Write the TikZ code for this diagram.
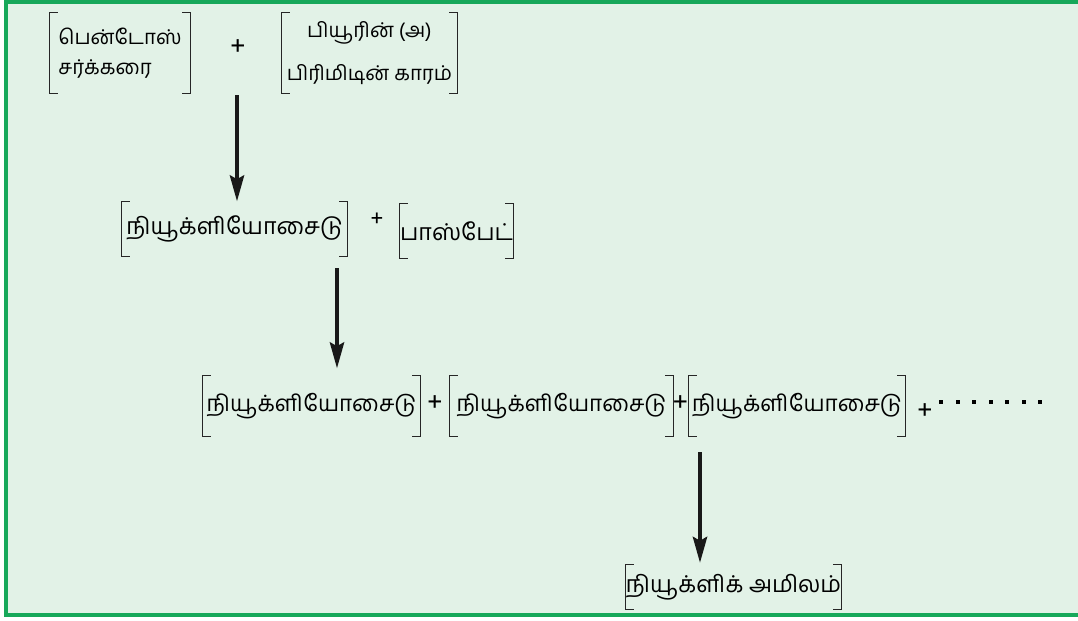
\documentclass[tikz,border=0pt]{standalone}
\usepackage{fontspec}
\newfontfamily\tamil[Script=Tamil]{Hind Madurai}
\usetikzlibrary{arrows.meta,positioning}
\definecolor{panel}{HTML}{E2F2E7}
\definecolor{rule}{HTML}{17A85A}
\newcommand\brk[1]{%
  \draw[brkline] ([xshift=8*0.025cm]#1.north west) -- (#1.north west) -- (#1.south west) -- ++(8*0.025cm,0);
  \draw[brkline] ([xshift=-8*0.025cm]#1.north east) -- (#1.north east) -- (#1.south east) -- ++(-8*0.025cm,0);}

\begin{document}
\begin{tikzpicture}[
  x=0.025cm, y=-0.025cm,
  box/.style={inner sep=0pt, align=center, font=\tamil\fontsize{14.5}{21}\selectfont},
  bigbox/.style={inner sep=0pt, minimum height=#1*0.025cm, font=\tamil\fontsize{16.5}{20}\selectfont},
  bigbox/.default=55,
  plus/.style={inner sep=0pt, font=\tamil\fontsize{20}{22}\selectfont},
  brkline/.style={line width=1pt, black!85},
  arr/.style={-{Stealth[length=6.5mm,width=3.6mm,inset=1mm]}, line width=2.2pt, black!90}
]
\useasboundingbox (0,0) rectangle (1078,620);
% frame
\fill[panel] (6,2) rectangle (1078,615);
\draw[rule, line width=2.2pt] (1078,2) -- (6,2) -- (6,615) -- (1078,615);

% first row
\node[box, minimum width=140*0.025cm, minimum height=80*0.025cm, align=left] (pentose) at (120,53) {பென்டோஸ்\\சர்க்கரை};
\node[plus] (plusA) at (238,48) {+};
\node[box, minimum width=175*0.025cm, minimum height=80*0.025cm, font=\tamil\fontsize{14.5}{31}\selectfont] (base) at (369.5,53) {பியூரின் (அ)\\பிரிமிடின் காரம்};
\brk{pentose}
\brk{base}

% second row
\node[bigbox=55, minimum width=225*0.025cm] (nucleoside) at (234.5,229) {நியூக்ளியோசைடு};
\node[plus, font=\tamil\fontsize{17}{20}\selectfont] (plusB) at (377,220) {+};
\node[bigbox=55, minimum width=113*0.025cm] (phosphate) at (456.5,231) {பாஸ்பேட்};
\brk{nucleoside}
\brk{phosphate}

% third row
\node[bigbox=61, minimum width=217*0.025cm, font=\tamil\fontsize{16}{20}\selectfont] (nucA) at (311.5,406) {நியூக்ளியோசைடு};
\node[plus] (plusC) at (435,404) {+};
\node[bigbox=61, minimum width=223*0.025cm, font=\tamil\fontsize{16}{20}\selectfont] (nucB) at (561.5,406) {நியூக்ளியோசைடு};
\node[plus] (plusD) at (680.5,404) {+};
\node[bigbox=61, minimum width=216*0.025cm, font=\tamil\fontsize{16}{20}\selectfont] (nucC) at (797,406) {நியூக்ளியோசைடு};
\node[plus] (plusE) at (925,412) {+};
\node[inner sep=0pt, minimum width=100*0.025cm, minimum height=6*0.025cm] (dots) at (988,402) {};
\foreach \i in {0,...,6}
  \fill (dots.west) ++(\i*16.5+1.5,1.75) rectangle ++(4,-4);
\brk{nucA}
\brk{nucB}
\brk{nucC}

% fourth row
\node[bigbox=44, minimum width=207*0.025cm] (nacid) at (733.5,587) {நியூக்ளிக் அமிலம்};
\brk{nacid}

% arrows
\coordinate (startA) at (237,95);
\coordinate (startB) at (337,268);
\coordinate (startC) at (700,452);
\draw[arr] (startA) -- (nucleoside.north -| startA);
\draw[arr] (startB) -- ([yshift=7*0.025cm]nucA.north -| startB);
\draw[arr] (startC) -- ([yshift=2*0.025cm]nacid.north -| startC);
\end{tikzpicture}
\end{document}
